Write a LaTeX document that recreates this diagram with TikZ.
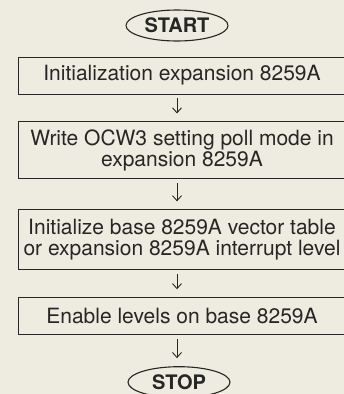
\documentclass[tikz,border=0pt]{standalone}
\usepackage{fontspec}
\setmainfont{TeX Gyre Heros}
\usepackage{xcolor}
\usetikzlibrary{shapes.geometric,arrows.meta,positioning}

\definecolor{paper}{RGB}{238,235,224}
\definecolor{ink}{RGB}{38,38,36}

\begin{document}
\begin{tikzpicture}[
    x=1pt, y=1pt,
    terminal/.style={ellipse, draw=ink, line width=1.1pt, minimum width=102pt, minimum height=31pt, inner sep=0pt, font=\fontsize{20}{22}\selectfont\bfseries, text=ink},
    stepbox/.style={rectangle, draw=ink, line width=0.9pt, minimum width=328pt, minimum height=37pt, inner sep=1pt, align=center, font=\fontsize{21}{21.5}\selectfont, text=ink},
    arr/.style={-{Straight Barb[length=5pt,width=9pt]}, line width=0.9pt, color=ink, shorten <=4pt, shorten >=8pt}
]
    % paper and page size
    \fill[paper] (0,0) rectangle (344,-394);
    \useasboundingbox (0,0) rectangle (344,-394);

    % Terminals and steps from top to bottom
    \node[terminal] (start) at (177,-25.5) {START};
    \node[stepbox, below=15pt of start, xshift=5pt] (initexp) {Initialization expansion 8259A};
    \node[stepbox, below=27pt of initexp, minimum height=57pt] (ocwpoll) {Write OCW3 setting poll mode in\\expansion 8259A};
    \node[stepbox, below=30pt of ocwpoll, minimum height=60pt] (vectab) {Initialize base 8259A vector table\\or expansion 8259A interrupt level};
    \node[stepbox, below=27pt of vectab] (enable) {Enable levels on base 8259A};
    \node[terminal, below=31pt of enable, xshift=-3pt] (stop) {STOP};

    % Arrows down the middle
    \draw[arr] (initexp.south -| start) -- (ocwpoll.north -| start);
    \draw[arr] (ocwpoll.south -| start) -- (vectab.north -| start);
    \draw[arr] (vectab.south -| start)  -- (enable.north -| start);
    \draw[arr] (enable.south -| start)  -- (stop.north -| start);

\end{tikzpicture}
\end{document}
